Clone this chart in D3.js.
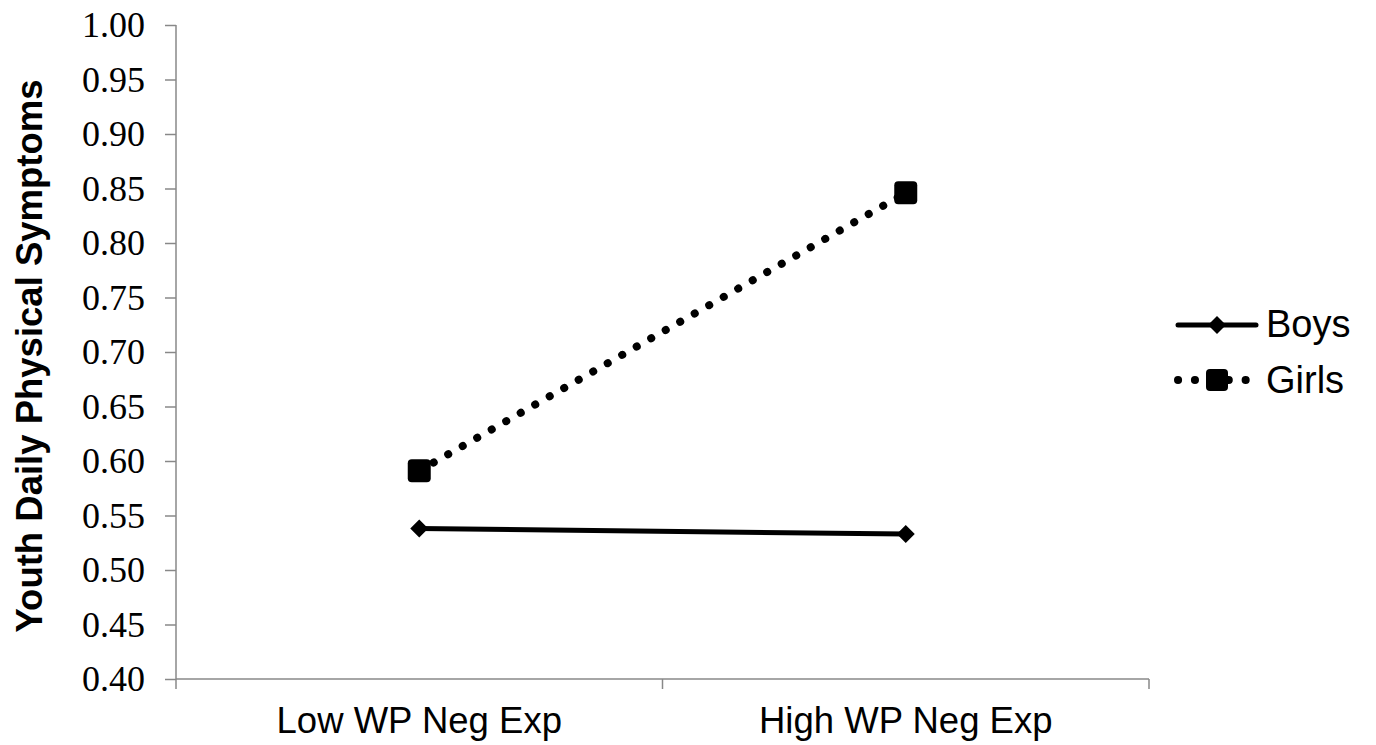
<!DOCTYPE html>
<html><head><meta charset="utf-8">
<script src="https://cdn.jsdelivr.net/npm/d3@7"></script>
<style>body{margin:0;background:#fff;}svg{display:block;}</style>
</head><body>
<script>
const categories = ["Low WP Neg Exp", "High WP Neg Exp"];
const boys = [0.538, 0.533];
const girls = [0.591, 0.846];
const yTicks = [0.40,0.45,0.50,0.55,0.60,0.65,0.70,0.75,0.80,0.85,0.90,0.95,1.00];
const seriesNames = ["Boys","Girls"];

const W=1376,H=745;
const svg=d3.select("body").append("svg").attr("width",W).attr("height",H);
const x0=176,x1=1149,yTop=25,yBot=679;
const x=d3.scaleBand().domain(categories).range([x0,x1]).paddingInner(0).paddingOuter(0);
const y=d3.scaleLinear().domain([0.4,1.0]).range([yBot,yTop]);
const axisColor="#888";

// y axis
const ya=svg.append("g").attr("transform",`translate(${x0},0)`)
  .call(d3.axisLeft(y).tickValues(yTicks).tickFormat(d3.format(".2f")).tickSize(11).tickPadding(20));
ya.select(".domain").attr("stroke",axisColor).attr("stroke-width",1.5).attr("d",`M0,${yTop}V${yBot}`);
ya.selectAll(".tick line").attr("stroke",axisColor).attr("stroke-width",1.5);
ya.selectAll(".tick text").attr("font-family","'Liberation Serif','Times New Roman',serif").attr("font-size",36).attr("fill","#000");

// x axis
const xa=svg.append("g").attr("transform",`translate(0,${yBot})`)
  .call(d3.axisBottom(x).tickSize(0));
xa.select(".domain").attr("stroke",axisColor).attr("stroke-width",1.5).attr("d",`M${x0},0H${x1}`);
xa.selectAll(".tick text").attr("font-family","'Liberation Sans',Arial,sans-serif").attr("font-size",36.5)
  .attr("fill","#000").attr("y",54).attr("dy","0");
// category boundary ticks
const bounds=[x0, x0+x.bandwidth(), x1];
xa.selectAll(".btick").data(bounds).enter().append("line")
  .attr("x1",d=>d).attr("x2",d=>d).attr("y1",0).attr("y2",10)
  .attr("stroke",axisColor).attr("stroke-width",1.5);

// y title
svg.append("text").attr("transform",`translate(42,356) rotate(-90)`)
  .attr("text-anchor","middle").attr("font-family","'Liberation Sans',Arial,sans-serif")
  .attr("font-weight","bold").attr("font-size",36.5).text("Youth Daily Physical Symptoms");

const cx=c=>x(c)+x.bandwidth()/2;
const line=d3.line().x((d,i)=>cx(categories[i])).y(d=>y(d));

// girls dotted line
svg.append("path").datum(girls).attr("d",line).attr("fill","none").attr("stroke","#000")
  .attr("stroke-width",8).attr("stroke-linecap","round").attr("stroke-dasharray","0.1 16.6")
  .attr("stroke-dashoffset",-16.6);
// boys line
svg.append("path").datum(boys).attr("d",line).attr("fill","none").attr("stroke","#000").attr("stroke-width",5);

// markers
const diamond=(g,px,py,r)=>g.append("path").attr("d",`M${px},${py-r}L${px+r},${py}L${px},${py+r}L${px-r},${py}Z`).attr("fill","#000");
boys.forEach((v,i)=>diamond(svg,cx(categories[i]),y(v),9));
girls.forEach((v,i)=>svg.append("rect").attr("x",cx(categories[i])-11.5).attr("y",y(v)-11.5)
  .attr("width",23).attr("height",23).attr("rx",4).attr("fill","#000"));

// legend
const lg=svg.append("g");
const ly=[325,380];
lg.append("line").attr("x1",1178).attr("x2",1256).attr("y1",ly[0]).attr("y2",ly[0]).attr("stroke","#000").attr("stroke-width",5).attr("stroke-linecap","round");
diamond(lg,1217,ly[0],9);
lg.append("line").attr("x1",1178).attr("x2",1256).attr("y1",ly[1]).attr("y2",ly[1]).attr("stroke","#000").attr("stroke-width",8).attr("stroke-linecap","round").attr("stroke-dasharray","0.1 16.8");
lg.append("rect").attr("x",1206).attr("y",ly[1]-11).attr("width",22).attr("height",22).attr("rx",4).attr("fill","#000");
const lBase=[337,393];
seriesNames.forEach((n,i)=>lg.append("text").attr("x",1266).attr("y",lBase[i]).attr("font-family","'Liberation Sans',Arial,sans-serif").attr("font-size",38).text(n));
</script>
</body></html>
